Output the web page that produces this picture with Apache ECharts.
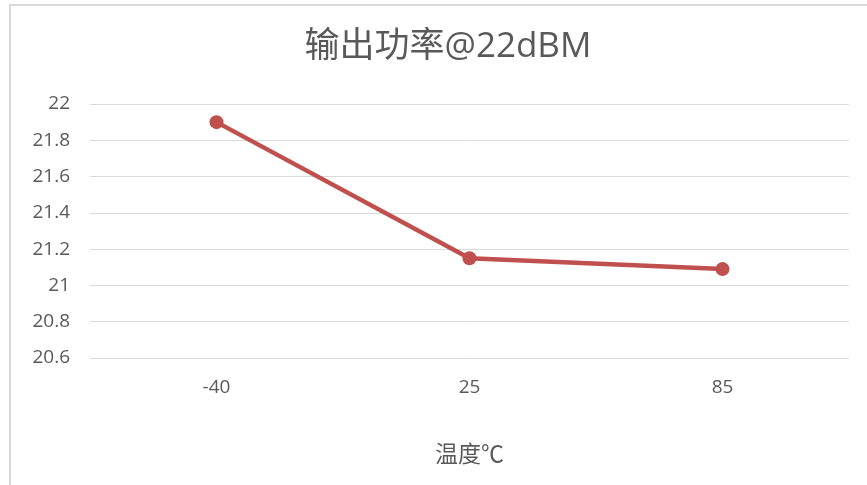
<!DOCTYPE html>
<html>
<head>
<meta charset="utf-8">
<script src="https://cdn.jsdelivr.net/npm/echarts@6/dist/echarts.min.js"></script>
<style>
html,body{margin:0;padding:0;background:#fff;}
#c{width:867px;height:485px;}
</style>
</head>
<body>
<div id="c"></div>
<script>
const categories = ['-40', '25', '85'];
const powerValues = [21.9, 21.15, 21.09];
const yTicks = { min: 20.6, max: 22, interval: 0.2 };
const titleText = '输出功率@22dBM';
const xName = '温度℃';

const FONT = '"Open Sans", "Noto Sans CJK SC", sans-serif';
const chart = echarts.init(document.getElementById('c'), null, { renderer: 'canvas' });
chart.setOption({
  backgroundColor: '#fff',
  animation: false,
  graphic: [{
    type: 'rect',
    shape: { x: 10, y: 5, width: 880, height: 520 },
    style: { fill: 'none', stroke: '#d9d9d9', lineWidth: 2 },
    silent: true, z: -1
  }],
  title: {
    text: titleText,
    left: 443, top: 25, textAlign: 'center',
    textStyle: { fontFamily: FONT, fontSize: 35, fontWeight: 'normal', color: '#595959' }
  },
  grid: { left: 90, right: 18, top: 104, bottom: 127 },
  xAxis: {
    type: 'category',
    data: categories,
    boundaryGap: true,
    axisLine: { show: false },
    axisTick: { show: false },
    axisLabel: { fontFamily: FONT, fontSize: 19, color: '#595959', margin: 20 },
    name: xName,
    nameLocation: 'middle',
    nameGap: 86,
    nameTextStyle: { fontFamily: FONT, fontSize: 23, color: '#595959' }
  },
  yAxis: {
    type: 'value',
    min: yTicks.min, max: yTicks.max, interval: yTicks.interval,
    axisLine: { show: false },
    axisTick: { show: false },
    splitLine: { lineStyle: { color: '#d9d9d9', width: 1 } },
    axisLabel: {
      fontFamily: FONT, fontSize: 19, color: '#595959', margin: 20,
      formatter: v => String(parseFloat(v.toFixed(1)))
    }
  },
  series: [{
    type: 'line',
    data: powerValues,
    symbol: 'circle',
    symbolSize: 14,
    lineStyle: { color: '#C0504D', width: 4.5 },
    itemStyle: { color: '#C0504D' }
  }]
});
</script>
</body>
</html>
